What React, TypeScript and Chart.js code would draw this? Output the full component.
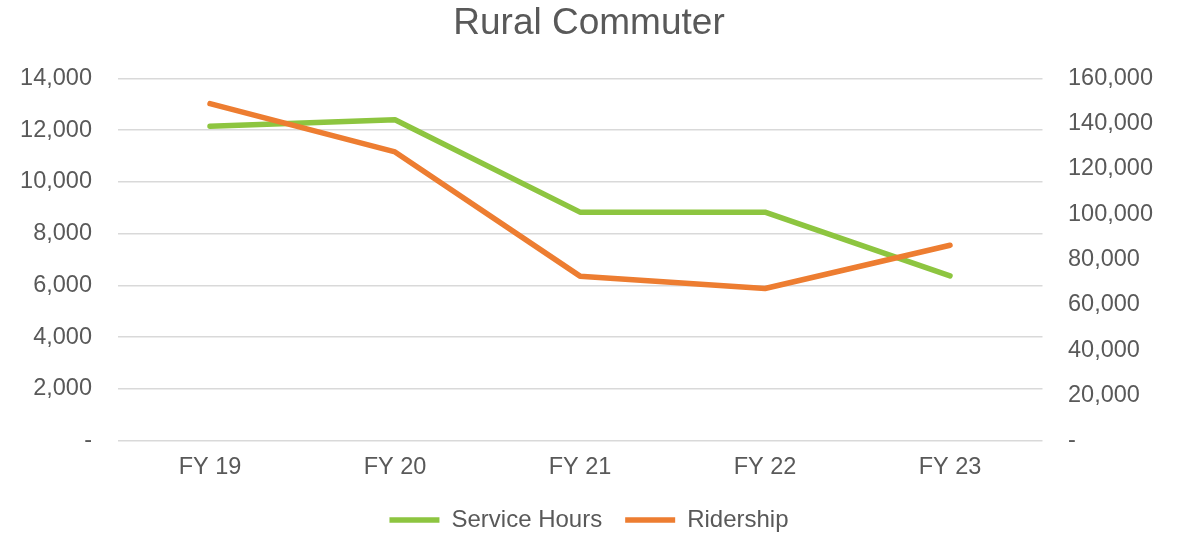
import React, { useEffect, useRef } from "react";
import { Chart, registerables } from "chart.js";

Chart.register(...registerables);

const categories = ["FY 19", "FY 20", "FY 21", "FY 22", "FY 23"];
const serviceHours = [12150, 12400, 8830, 8830, 6370];
const ridership = [148800, 127500, 72650, 67200, 86300];
const leftTicks = [0, 2000, 4000, 6000, 8000, 10000, 12000, 14000];
const rightTicks = [0, 20000, 40000, 60000, 80000, 100000, 120000, 140000, 160000];

const GREEN = "#8DC540";
const ORANGE = "#ED7D31";
const TEXT = "#595959";
const FONT = "'Liberation Sans', Arial, sans-serif";

const fmt = (v: number) => (v === 0 ? "-" : Number(v).toLocaleString("en-US"));

export default function App() {
  const ref = useRef<HTMLCanvasElement | null>(null);

  useEffect(() => {
    if (!ref.current) return;
    const legendPatch = {
      id: "legendPatch",
      afterInit(chart: any) {
        const lg = chart.legend;
        if (lg) {
          const orig = lg.fit.bind(lg);
          lg.fit = function () {
            orig();
            this.height = 49;
          };
        }
      },
    };
    const chart = new Chart(ref.current, {
      type: "line",
      data: {
        labels: categories,
        datasets: [
          {
            label: "Service Hours",
            data: serviceHours,
            yAxisID: "y",
            borderColor: GREEN,
            backgroundColor: GREEN,
            borderWidth: 5.5,
            pointRadius: 0,
            borderCapStyle: "round",
            borderJoinStyle: "round",
            tension: 0,
            order: 1,
          },
          {
            label: "Ridership",
            data: ridership,
            yAxisID: "y1",
            borderColor: ORANGE,
            backgroundColor: ORANGE,
            borderWidth: 5.5,
            pointRadius: 0,
            borderCapStyle: "round",
            borderJoinStyle: "round",
            tension: 0,
            order: 0,
          },
        ],
      },
      options: {
        responsive: false,
        animation: false,
        devicePixelRatio: 1,
        layout: { padding: 0 },
        plugins: {
          title: {
            display: true,
            text: "Rural Commuter",
            color: TEXT,
            font: { family: FONT, size: 37, weight: "normal" },
            padding: { top: 1.8, bottom: 32.1 },
          },
          legend: {
            position: "bottom",
            labels: {
              color: TEXT,
              font: { family: FONT, size: 24 },
              usePointStyle: true,
              pointStyle: "line",
              pointStyleWidth: 50,
              padding: 23,
              sort: (a: any, b: any) => a.datasetIndex - b.datasetIndex,
            },
          },
          tooltip: { enabled: false },
        },
        scales: {
          x: {
            type: "category",
            offset: true,
            grid: { display: false, drawTicks: false },
            border: { display: false },
            ticks: {
              color: TEXT,
              font: { family: FONT, size: 23.5 },
              padding: 13,
              maxRotation: 0,
            },
            afterFit(scale: any) {
              scale.height = 44.3;
            },
          },
          y: {
            position: "left",
            min: 0,
            max: 14000,
            afterBuildTicks(scale: any) {
              scale.ticks = leftTicks.map((v) => ({ value: v }));
            },
            grid: { color: "#D9D9D9", lineWidth: 1.5, drawTicks: false },
            border: { display: false },
            ticks: {
              color: TEXT,
              font: { family: FONT, size: 23.5 },
              padding: 25.5,
              callback: (v: any) => fmt(Number(v)),
            },
            afterFit(scale: any) {
              scale.width = 117.5;
            },
          },
          y1: {
            position: "right",
            min: 0,
            max: 160000,
            afterBuildTicks(scale: any) {
              scale.ticks = rightTicks.map((v) => ({ value: v }));
            },
            grid: { drawOnChartArea: false, drawTicks: false },
            border: { display: false },
            ticks: {
              color: TEXT,
              font: { family: FONT, size: 23.5 },
              padding: 25.5,
              callback: (v: any) => fmt(Number(v)),
            },
            afterFit(scale: any) {
              scale.width = 135.5;
            },
          },
        },
      },
      plugins: [legendPatch],
    } as any);
    return () => chart.destroy();
  }, []);

  return (
    <div style={{ position: "absolute", left: 0, top: 0, width: 1178, height: 534, background: "#fff" }}>
      <canvas ref={ref} width={1178} height={534} />
    </div>
  );
}
